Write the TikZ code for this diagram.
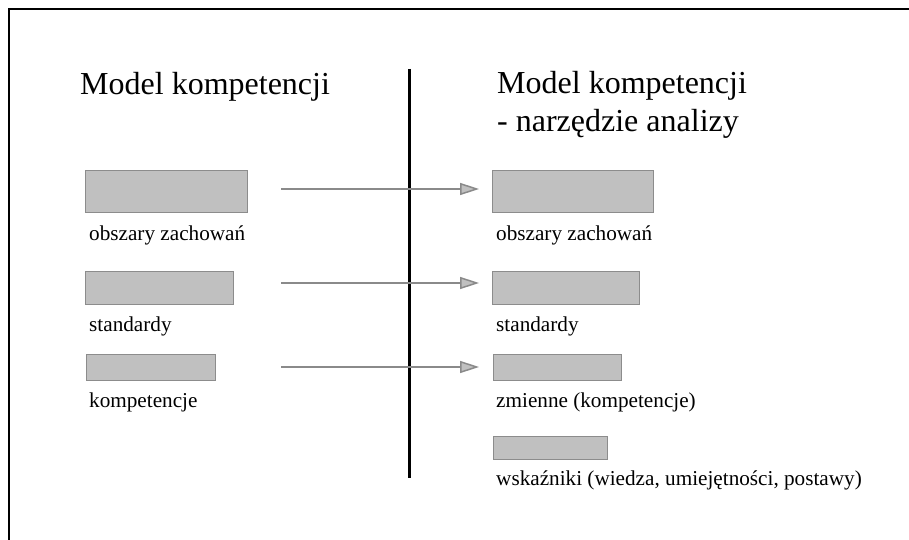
\documentclass[tikz,border=0pt]{standalone}
\usepackage{fontspec}
\setmainfont{Liberation Serif}
\usetikzlibrary{arrows.meta}
\definecolor{boxfill}{HTML}{C0C0C0}
\definecolor{boxline}{HTML}{8C8C8C}
\definecolor{arrowline}{HTML}{8A8A8A}
\begin{document}
\begin{tikzpicture}[x=1pt,y=-1pt,
  field/.style={draw=boxline, fill=boxfill, line width=0.8pt, inner sep=0pt, anchor=north west},
  caption/.style={anchor=base west, inner sep=0pt, font=\fontsize{21.2}{25}\selectfont},
  heading/.style={anchor=base west, inner sep=0pt, font=\fontsize{32}{38}\selectfont},
  link/.style={draw=arrowline, line width=1.5pt, -{Triangle[length=19pt,width=12pt,fill=boxfill]}},
  divider/.style={line width=3pt}]
\useasboundingbox (0,0) rectangle (909,540);
\fill[white] (0,0) rectangle (909,540);
% frame along the top and left edges
\coordinate (fbl) at (9,541);
\coordinate (ftl) at (9,9);
\coordinate (ftr) at (910,9);
\draw[line width=2pt] (fbl) -- (ftl) -- (ftr);

% headings
\node[heading] (lhead) at (80,95) {Model kompetencji};
\node[heading] (rhead) at (497,94) {Model kompetencji};
\node[heading] (rhead2) at (497,132) {- narzędzie analizy};

% divider between the two models
\coordinate (dtop) at (409,69);
\coordinate (dbot) at (409,478);
\draw[divider] (dtop) -- (dbot);

% left column
\node[field, minimum width=162pt, minimum height=42pt] (l1) at (85,170) {};
\node[caption] (l1t) at (89,240) {obszary zachowań};
\node[field, minimum width=148pt, minimum height=33pt] (l2) at (85,271) {};
\node[caption] (l2t) at (89,331) {standardy};
\node[field, minimum width=129pt, minimum height=26pt] (l3) at (86,354) {};
\node[caption] (l3t) at (89,407) {kompetencje};

% right column
\node[field, minimum width=161pt, minimum height=42pt] (r1) at (492,170) {};
\node[caption] (r1t) at (496,240) {obszary zachowań};
\node[field, minimum width=147pt, minimum height=33pt] (r2) at (492,271) {};
\node[caption] (r2t) at (496,331) {standardy};
\node[field, minimum width=128pt, minimum height=26pt] (r3) at (493,354) {};
\node[caption] (r3t) at (496,407) {zmienne (kompetencje)};
\node[field, minimum width=114pt, minimum height=23pt] (r4) at (493,436) {};
\node[caption] (r4t) at (496,485) {wskaźniki (wiedza, umiejętności, postawy)};

% mapping arrows
\coordinate (a1s) at (281,189);
\coordinate (a1e) at (479,189);
\coordinate (a2s) at (281,283);
\coordinate (a2e) at (479,283);
\coordinate (a3s) at (281,367);
\coordinate (a3e) at (479,367);
\draw[link] (a1s) -- (a1e);
\draw[link] (a2s) -- (a2e);
\draw[link] (a3s) -- (a3e);
\end{tikzpicture}
\end{document}
